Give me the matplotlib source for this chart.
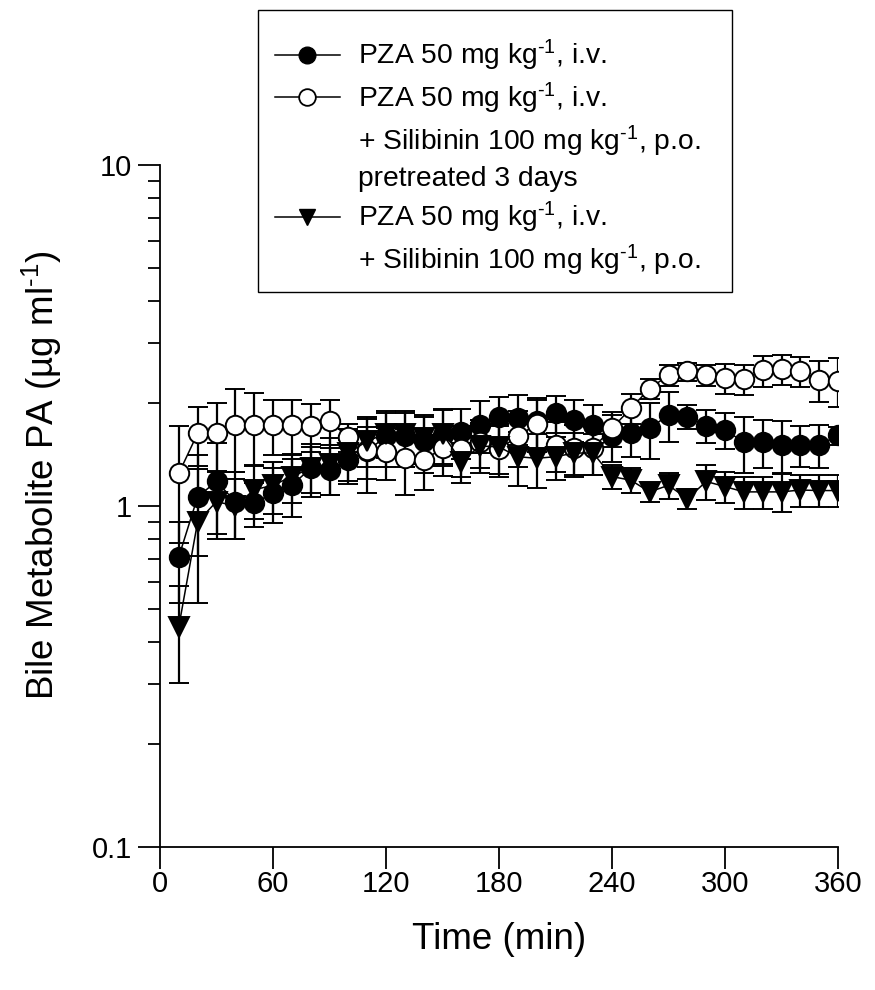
import numpy as np
import matplotlib
matplotlib.use("Agg")
import matplotlib.pyplot as plt
from matplotlib.lines import Line2D
from matplotlib.patches import Rectangle
from matplotlib.ticker import FixedLocator, FixedFormatter, LogLocator, NullFormatter

plt.rcParams['font.family'] = ['Liberation Sans', 'DejaVu Sans']
plt.rcParams['mathtext.fontset'] = 'custom'
plt.rcParams['mathtext.rm'] = 'Liberation Sans'
plt.rcParams['mathtext.it'] = 'Liberation Sans:italic'
plt.rcParams['mathtext.default'] = 'regular'

# ------------------------------------------------------------
# data
# ------------------------------------------------------------
times = [10, 20, 30, 40, 50, 60, 70, 80, 90, 100, 110, 120,
         130, 140, 150, 160, 170, 180, 190, 200, 210, 220, 230, 240,
         250, 260, 270, 280, 290, 300, 310, 320, 330, 340, 350, 360]

pza = [0.71, 1.065, 1.18, 1.03, 1.02, 1.09, 1.15, 1.29, 1.275, 1.36, 1.45, 1.60,
       1.60, 1.55, 1.61, 1.65, 1.73, 1.83, 1.81, 1.77, 1.87, 1.79, 1.73, 1.60,
       1.64, 1.69, 1.85, 1.83, 1.72, 1.67, 1.54, 1.54, 1.51, 1.51, 1.51, 1.61]
pza_err = [0.19, 0.35, 0.35, 0.23, 0.15, 0.20, 0.22, 0.23, 0.20, 0.20, 0.25, 0.30,
           0.30, 0.30, 0.30, 0.28, 0.30, 0.26, 0.30, 0.30, 0.23, 0.25, 0.25, 0.25,
           0.25, 0.32, 0.31, 0.15, 0.19, 0.20, 0.29, 0.25, 0.26, 0.21, 0.22, 0.10]

pre = [1.247, 1.634, 1.64, 1.728, 1.73, 1.73, 1.73, 1.716, 1.775, 1.59, 1.46, 1.44,
       1.38, 1.364, 1.476, 1.47, 1.54, 1.47, 1.60, 1.74, 1.51, 1.48, 1.48, 1.69,
       1.934, 2.21, 2.42, 2.48, 2.42, 2.37, 2.35, 2.50, 2.52, 2.49, 2.34, 2.33]
pre_err = [0.47, 0.32, 0.37, 0.47, 0.42, 0.32, 0.32, 0.28, 0.27, 0.15, 0.37, 0.25,
           0.30, 0.25, 0.25, 0.25, 0.25, 0.25, 0.30, 0.30, 0.25, 0.25, 0.25, 0.20,
           0.20, 0.15, 0.17, 0.15, 0.17, 0.24, 0.24, 0.26, 0.26, 0.25, 0.32, 0.38]

sil = [0.443, 0.90, 1.03, 1.0, 1.116, 1.15, 1.22, 1.29, 1.33, 1.43, 1.55, 1.63,
       1.63, 1.58, 1.63, 1.35, 1.50, 1.49, 1.395, 1.38, 1.395, 1.43, 1.43, 1.22,
       1.19, 1.10, 1.15, 1.05, 1.18, 1.14, 1.10, 1.10, 1.10, 1.114, 1.11, 1.11]
sil_err = [0.14, 0.38, 0.23, 0.20, 0.20, 0.20, 0.20, 0.20, 0.25, 0.25, 0.25, 0.25,
           0.25, 0.25, 0.30, 0.18, 0.25, 0.25, 0.25, 0.25, 0.20, 0.21, 0.20, 0.10,
           0.10, 0.07, 0.10, 0.07, 0.14, 0.12, 0.12, 0.12, 0.14, 0.12, 0.12, 0.12]

x_ticks = [0, 60, 120, 180, 240, 300, 360]
y_ticks = [0.1, 1, 10]
y_tick_labels = ["0.1", "1", "10"]

kg = r"kg$^{\text{-1}}$"
legend_rows = [
    "PZA 50 mg " + kg + ", i.v.",
    "PZA 50 mg " + kg + ", i.v.",
    "+ Silibinin 100 mg " + kg + ", p.o.",
    "pretreated 3 days",
    "PZA 50 mg " + kg + ", i.v.",
    "+ Silibinin 100 mg " + kg + ", p.o.",
]

# ------------------------------------------------------------
# figure
# ------------------------------------------------------------
W, H = 875, 990
fig = plt.figure(figsize=(W / 100, H / 100), dpi=100)
ax = fig.add_axes([160 / W, 1 - 847 / H, 678 / W, 682 / H])

ms = 14
common = dict(color="black", lw=1.1, elinewidth=1.6, capsize=7.5, capthick=1.6,
              markersize=ms, markeredgewidth=1.4, markeredgecolor="black")

ax.errorbar(times, pza, yerr=pza_err, fmt="o-", markerfacecolor="black", **common)
ax.errorbar(times, pre, yerr=pre_err, fmt="o-", markerfacecolor="white", **common)
ax.errorbar(times, sil, yerr=sil_err, fmt="v-", markerfacecolor="black", **common)

ax.set_yscale("log")
ax.set_xlim(0, 360)
ax.set_ylim(0.1, 10)
ax.xaxis.set_major_locator(FixedLocator(x_ticks))
ax.yaxis.set_major_locator(FixedLocator(y_ticks))
ax.yaxis.set_major_formatter(FixedFormatter(y_tick_labels))
ax.yaxis.set_minor_locator(LogLocator(base=10, subs=np.arange(2, 10)))
ax.yaxis.set_minor_formatter(NullFormatter())

for side in ["top", "right"]:
    ax.spines[side].set_visible(False)
for side in ["left", "bottom"]:
    ax.spines[side].set_linewidth(1.3)

ax.tick_params(which="major", direction="out", length=16, width=1.3,
               labelsize=21, pad=4)
ax.tick_params(axis="x", which="major", pad=0.5)
ax.tick_params(which="minor", direction="out", length=8.5, width=1.3)

ax.set_xlabel("Time (min)", fontsize=26.5, labelpad=17)
ax.set_ylabel("Bile Metabolite PA (µg ml$^{\\text{-1}}$)", fontsize=26.5)
ax.yaxis.set_label_coords(-0.141, 0.545)

# legend: one row per text line, handles only on first lines
blank = Line2D([], [], linestyle="none", marker=None)
handles = [
    Line2D([], [], color="black", lw=1.1, marker="o", markerfacecolor="black",
           markeredgecolor="black", markersize=12),
    Line2D([], [], color="black", lw=1.1, marker="o", markerfacecolor="white",
           markeredgecolor="black", markersize=12, markeredgewidth=1.3),
    blank, blank,
    Line2D([], [], color="black", lw=1.1, marker="v", markerfacecolor="black",
           markeredgecolor="black", markersize=12),
    blank,
]
leg = fig.legend(handles, legend_rows, loc="upper left",
                 bbox_to_anchor=(275 / W, 1 - 38 / H),
                 bbox_transform=fig.transFigure, fontsize=20.3,
                 frameon=False, handlelength=2.3, handletextpad=0.63,
                 labelspacing=0.27, borderpad=0, borderaxespad=0)

# legend frame
fig.add_artist(Rectangle((258 / W, 1 - 292 / H), 474 / W, 282 / H,
                         transform=fig.transFigure, fill=False,
                         edgecolor="black", linewidth=1.0))

fig.savefig("out.png", dpi=100)
